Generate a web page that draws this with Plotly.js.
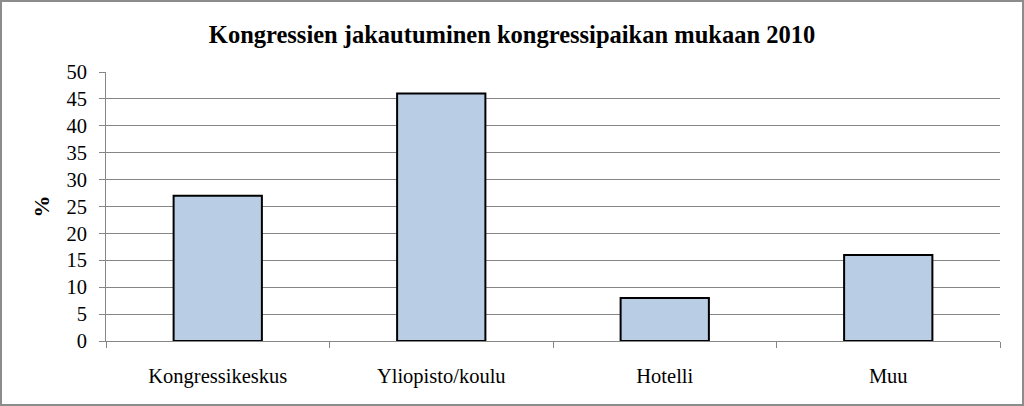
<!DOCTYPE html>
<html>
<head>
<meta charset="utf-8">
<script src="https://cdn.plot.ly/plotly-3.0.1.min.js"></script>
<style>
html,body{margin:0;padding:0;background:#fff;}
#wrap{position:relative;width:1024px;height:406px;}
#chart{width:1024px;height:406px;}
#frame{position:absolute;left:0;top:0;width:1024px;height:406px;box-sizing:border-box;border:2px solid #8c8c8c;pointer-events:none;}
</style>
</head>
<body>
<div id="wrap"><div id="chart"></div><div id="frame"></div></div>
<script>
const categories = ["Kongressikeskus", "Yliopisto/koulu", "Hotelli", "Muu"];
const values = [27, 46, 8, 16];
const yTicks = [0, 5, 10, 15, 20, 25, 30, 35, 40, 45, 50];
const chartTitle = "Kongressien jakautuminen kongressipaikan mukaan 2010";
const yTitle = "%";

const font = "Liberation Serif, Times New Roman, serif";

Plotly.newPlot("chart", [{
  type: "bar",
  x: categories,
  y: values,
  marker: {color: "#b9cde5", line: {color: "#000000", width: 2}},
  hoverinfo: "x+y"
}], {
  width: 1024, height: 406,
  margin: {l: 106, r: 24, t: 72, b: 65},
  paper_bgcolor: "#ffffff",
  plot_bgcolor: "#ffffff",
  bargap: 0.605,
  showlegend: false,
  font: {family: font, color: "#000"},
  title: {text: "<b>" + chartTitle + "</b>", font: {family: font, size: 24.5, color: "#000"}, x: 0.5, xanchor: "center", y: 0.915, yanchor: "middle"},
  xaxis: {
    type: "category",
    tickson: "boundaries",
    ticks: "outside", ticklen: 6, tickcolor: "#868686", tickwidth: 1,
    showline: true, linecolor: "#868686", linewidth: 1,
    showgrid: false,
    tickfont: {family: font, size: 20.5, color: "#000"},
    ticklabelstandoff: 16
  },
  yaxis: {
    range: [0, 50],
    tickvals: yTicks,
    ticktext: yTicks.map(String),
    ticks: "outside", ticklen: 6, tickcolor: "#868686",
    showline: true, linecolor: "#868686", linewidth: 1,
    showgrid: true, gridcolor: "#868686", gridwidth: 1,
    zeroline: false,
    tickfont: {family: font, size: 20.5, color: "#000"},
    ticklabelstandoff: 8,
    title: {text: "<b>" + yTitle + "</b>", font: {family: font, size: 22, color: "#000"}, standoff: 10}
  }
}, {displayModeBar: false, staticPlot: true});
</script>
</body>
</html>
